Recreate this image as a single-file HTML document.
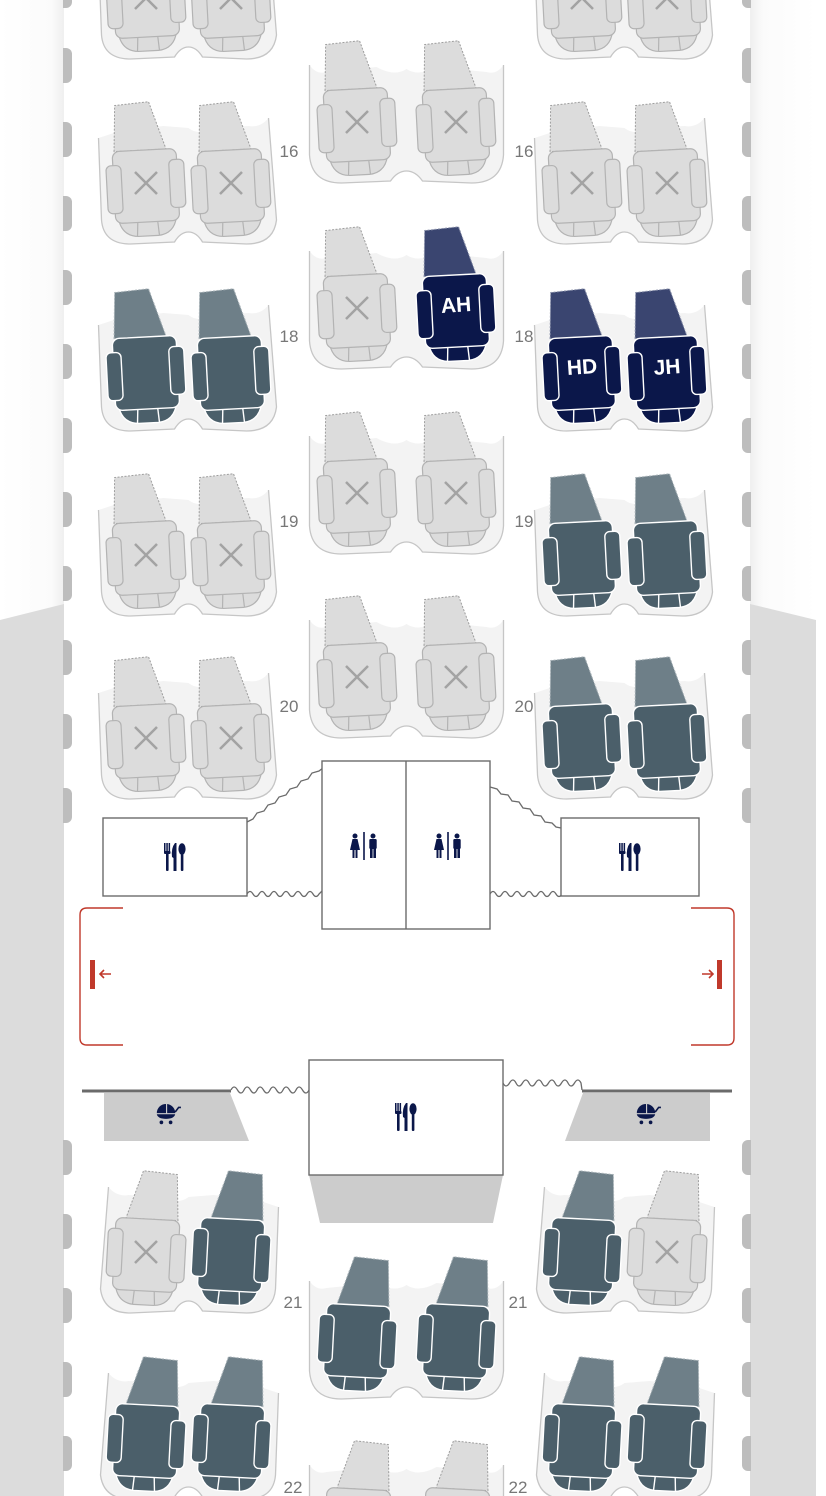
<!DOCTYPE html>
<html><head><meta charset="utf-8"><style>
html,body{margin:0;padding:0;background:#fff;width:826px;height:1496px;overflow:hidden}
svg{display:block}
text{font-family:"Liberation Sans",sans-serif}
</style></head><body>
<svg width="826" height="1496" viewBox="0 0 826 1496" xmlns="http://www.w3.org/2000/svg">
<defs>
<linearGradient id="gl" x1="0" x2="1" y1="0" y2="0"><stop offset="0" stop-color="#fff"/><stop offset="0.8" stop-color="#fbfbfb"/><stop offset="1" stop-color="#efefef"/></linearGradient>
<linearGradient id="gr" x1="0" x2="1" y1="0" y2="0"><stop offset="0" stop-color="#efefef"/><stop offset="0.2" stop-color="#fbfbfb"/><stop offset="1" stop-color="#fff"/></linearGradient>
<g id="shell">
<path d="M-90,-50 L-87,32 Q-85,56 -58,56 L-14,54 Q-8,44 0,44 Q8,44 14,54 L58,56 Q85,56 88,32 L80,-70 Q72,-60 60,-62 L25,-60 Q10,-52 0,-60 L-25,-62 Q-40,-60 -50,-63 Z" fill="#f3f3f3"/>
<path d="M-90,-50 L-87,32 Q-85,56 -58,56 L-14,54 Q-8,44 0,44 Q8,44 14,54 L58,56 Q85,56 88,32 L80,-70" fill="none" stroke="#c6c6c6" stroke-width="1.3"/>
</g>
<g id="shellC">
<path d="M-97,-62 L-97,28 Q-95,56 -65,56 L-16,54 Q-9,44 0,44 Q9,44 16,54 L65,56 Q95,56 97,28 L97,-62 Q90,-52 80,-55 L30,-60 Q12,-50 0,-58 Q-12,-50 -30,-60 L-80,-55 Q-90,-52 -97,-62 Z" fill="#f3f3f3"/>
<path d="M-97,-62 L-97,28 Q-95,56 -65,56 L-16,54 Q-9,44 0,44 Q9,44 16,54 L65,56 Q95,56 97,28 L97,-62" fill="none" stroke="#c6c6c6" stroke-width="1.3"/>
</g>
<g id="sO" transform="rotate(-3)">
<path d="M-30,-38 L-27,-84 L7,-86 L22,-38 Z" fill="#6e7f88" stroke="#a9b3b8" stroke-width="1" stroke-dasharray="2 1.5"/>
<path d="M-29,10 L-29,30 Q-26,47 -10,48 L10,48 Q26,47 29,30 L29,10 Z" fill="#4b5f6a" stroke="#fff" stroke-width="1.4"/>
<path d="M-10,34 L-11,48 M10,34 L11,48" stroke="#fff" stroke-width="1.4"/>
<rect x="-32" y="-38" width="64" height="72" rx="7" fill="#4b5f6a" stroke="#fff" stroke-width="1.4"/>
<rect x="-39" y="-24" width="15" height="48" rx="5" fill="#4b5f6a" stroke="#fff" stroke-width="1.4"/>
<rect x="24" y="-27" width="15" height="48" rx="5" fill="#4b5f6a" stroke="#fff" stroke-width="1.4"/>
</g>
<g id="sS" transform="rotate(-3)">
<path d="M-30,-38 L-27,-84 L7,-86 L22,-38 Z" fill="#3a4570" stroke="#8d94ad" stroke-width="1" stroke-dasharray="2 1.5"/>
<path d="M-29,10 L-29,30 Q-26,47 -10,48 L10,48 Q26,47 29,30 L29,10 Z" fill="#0b174a" stroke="#fff" stroke-width="1.4"/>
<path d="M-10,34 L-11,48 M10,34 L11,48" stroke="#fff" stroke-width="1.4"/>
<rect x="-32" y="-38" width="64" height="72" rx="7" fill="#0b174a" stroke="#fff" stroke-width="1.4"/>
<rect x="-39" y="-24" width="15" height="48" rx="5" fill="#0b174a" stroke="#fff" stroke-width="1.4"/>
<rect x="24" y="-27" width="15" height="48" rx="5" fill="#0b174a" stroke="#fff" stroke-width="1.4"/>
</g>
<g id="sU">
<g transform="rotate(-3)">
<path d="M-30,-38 L-27,-84 L7,-86 L22,-38 Z" fill="#dcdcdc" stroke="#9e9e9e" stroke-width="1" stroke-dasharray="2 1.5"/>
<path d="M-29,10 L-29,30 Q-26,47 -10,48 L10,48 Q26,47 29,30 L29,10 Z" fill="#dcdcdc" stroke="#b3b3b3" stroke-width="1.2"/>
<path d="M-10,34 L-11,48 M10,34 L11,48" stroke="#b3b3b3" stroke-width="1.2"/>
<rect x="-32" y="-38" width="64" height="72" rx="7" fill="#dcdcdc" stroke="#b3b3b3" stroke-width="1.2"/>
<rect x="-39" y="-24" width="15" height="48" rx="5" fill="#dcdcdc" stroke="#b3b3b3" stroke-width="1.2"/>
<rect x="24" y="-27" width="15" height="48" rx="5" fill="#dcdcdc" stroke="#b3b3b3" stroke-width="1.2"/>
</g>
<path d="M-11,-16 L11,6 M11,-16 L-11,6" stroke="#a3a3a3" stroke-width="2.5"/>
</g>
<g id="cut" fill="#0b174a">
<rect x="-11" y="-14" width="1.5" height="9"/><rect x="-8.7" y="-14" width="1.5" height="9"/><rect x="-6.4" y="-14" width="1.5" height="9"/>
<rect x="-11" y="-6" width="6.5" height="3" rx="1"/><rect x="-9" y="-4" width="2.6" height="18" rx="1"/>
<path d="M0,-14 Q-4,-9 -3,0 L-1.5,1 L-1.5,14 L1.5,14 L1.5,-14 Z"/>
<ellipse cx="7" cy="-8" rx="3.6" ry="5.8"/><rect x="5.8" y="-4" width="2.6" height="18" rx="1"/>
</g>
<g id="lav" fill="#0b174a">
<circle cx="-9" cy="-10" r="2.5"/><path d="M-11.5,-7 L-6.5,-7 L-4,4 L-14,4 Z"/><rect x="-11.5" y="3" width="2" height="9"/><rect x="-8.5" y="3" width="2" height="9"/>
<rect x="-0.8" y="-14" width="1.6" height="28"/>
<circle cx="9" cy="-10" r="2.5"/><rect x="5.3" y="-7" width="7.4" height="10" rx="1.2"/><rect x="6" y="2" width="2.6" height="10"/><rect x="9.4" y="2" width="2.6" height="10"/>
</g>
<g id="str" fill="#0b174a">
<path d="M-8,1 A8,8 0 0 1 0,-7 L0,1 Z"/><path d="M1,-7 A8,8 0 0 1 8,1 L1,1 Z" /><path d="M-8,2 L8,2 Q7,6 0,6 Q-7,6 -8,2 Z"/>
<path d="M8,0 L11,-4 L13,-4" stroke="#0b174a" stroke-width="1.4" fill="none"/>
<circle cx="-4" cy="9" r="1.6"/><circle cx="4" cy="9" r="1.6"/>
</g>
<path id="tab" d="M0,0 h3 a6,6 0 0 1 6,6 v23 a6,6 0 0 1 -6,6 h-3 z" fill="#bdbdbd"/>
<g id="tabs">
<use href="#tab" y="-27"/><use href="#tab" y="48"/><use href="#tab" y="122"/><use href="#tab" y="196"/><use href="#tab" y="270"/><use href="#tab" y="344"/><use href="#tab" y="418"/><use href="#tab" y="492"/><use href="#tab" y="566"/><use href="#tab" y="640"/><use href="#tab" y="714"/><use href="#tab" y="788"/><use href="#tab" y="1140"/><use href="#tab" y="1214"/><use href="#tab" y="1288"/><use href="#tab" y="1362"/><use href="#tab" y="1436"/>
</g>
</defs>

<!-- outside -->
<rect x="0" y="0" width="64" height="1496" fill="url(#gl)"/>
<polygon points="0,620 64,604 64,1496 0,1496" fill="#dcdcdc"/>
<rect x="750" y="0" width="66" height="1496" fill="url(#gr)"/>
<polygon points="750,604 816,620 816,1496 750,1496" fill="#dcdcdc"/>
<rect x="64" y="0" width="686" height="1496" fill="#fff"/>

<!-- window tabs -->
<use href="#tabs" x="63"/>
<use href="#tabs" transform="translate(751,0) scale(-1,1)"/>

<!-- rows before galley -->
<g transform="translate(188.5,3)"><use href="#shell"/><use href="#sU" x="-42.5"/><use href="#sU" x="42.5"/></g>
<g transform="translate(624.5,3)"><use href="#shell"/><use href="#sU" x="-42.5"/><use href="#sU" x="42.5"/></g>
<g transform="translate(406.5,127)"><use href="#shellC"/><use href="#sU" x="-49.5"/><use href="#sU" x="49.5"/></g>

<g transform="translate(188.5,188)"><use href="#shell"/><use href="#sU" x="-42.5"/><use href="#sU" x="42.5"/></g>
<g transform="translate(624.5,188)"><use href="#shell"/><use href="#sU" x="-42.5"/><use href="#sU" x="42.5"/></g>
<g transform="translate(406.5,313)"><use href="#shellC"/><use href="#sU" x="-49.5"/><use href="#sS" x="49.5"/></g>

<g transform="translate(188.5,375)"><use href="#shell"/><use href="#sO" x="-42.5"/><use href="#sO" x="42.5"/></g>
<g transform="translate(624.5,375)"><use href="#shell"/><use href="#sS" x="-42.5"/><use href="#sS" x="42.5"/></g>
<g transform="translate(406.5,498)"><use href="#shellC"/><use href="#sU" x="-49.5"/><use href="#sU" x="49.5"/></g>

<g transform="translate(188.5,560)"><use href="#shell"/><use href="#sU" x="-42.5"/><use href="#sU" x="42.5"/></g>
<g transform="translate(624.5,560)"><use href="#shell"/><use href="#sO" x="-42.5"/><use href="#sO" x="42.5"/></g>
<g transform="translate(406.5,682)"><use href="#shellC"/><use href="#sU" x="-49.5"/><use href="#sU" x="49.5"/></g>

<g transform="translate(188.5,743)"><use href="#shell"/><use href="#sU" x="-42.5"/><use href="#sU" x="42.5"/></g>
<g transform="translate(624.5,743)"><use href="#shell"/><use href="#sO" x="-42.5"/><use href="#sO" x="42.5"/></g>

<!-- selected labels -->
<g font-size="21" font-weight="bold" fill="#fff" text-anchor="middle">
<text x="456" y="312" transform="rotate(-4 456 305)">AH</text>
<text x="582" y="374" transform="rotate(-4 582 367)">HD</text>
<text x="667" y="374" transform="rotate(-4 667 367)">JH</text>
</g>

<!-- rows after galley (mirrored) -->
<g transform="translate(188.5,1257) scale(-1,1)"><use href="#shell"/><use href="#sO" x="-42.5"/><use href="#sU" x="42.5"/></g>
<g transform="translate(624.5,1257) scale(-1,1)"><use href="#shell"/><use href="#sU" x="-42.5"/><use href="#sO" x="42.5"/></g>
<g transform="translate(406.5,1343) scale(-1,1)"><use href="#shellC"/><use href="#sO" x="-49.5"/><use href="#sO" x="49.5"/></g>
<g transform="translate(188.5,1443) scale(-1,1)"><use href="#shell"/><use href="#sO" x="-42.5"/><use href="#sO" x="42.5"/></g>
<g transform="translate(624.5,1443) scale(-1,1)"><use href="#shell"/><use href="#sO" x="-42.5"/><use href="#sO" x="42.5"/></g>
<g transform="translate(406.5,1527) scale(-1,1)"><use href="#shellC"/><use href="#sU" x="-49.5"/><use href="#sU" x="49.5"/></g>

<!-- row numbers -->
<g font-size="17" fill="#777" text-anchor="middle">
<text x="289" y="157">16</text><text x="524" y="157">16</text>
<text x="289" y="342">18</text><text x="524" y="342">18</text>
<text x="289" y="527">19</text><text x="524" y="527">19</text>
<text x="289" y="712">20</text><text x="524" y="712">20</text>
<text x="293" y="1308">21</text><text x="518" y="1308">21</text>
<text x="293" y="1493">22</text><text x="518" y="1493">22</text>
</g>

<!-- galley / lavs -->
<g fill="none" stroke="#6b6b6b" stroke-width="1.3">
<path d="M247,822 l6,-3 l4,-6 l7,-2 l4,-6 l7,-2 l4,-6 l7,-2 l4,-6 l7,-2 l4,-6 l7,-2 l4,-6 l7,-2 l4,-3 l7,2"/>
<path d="M247,894 q3,-5 6,0 t6,0 t6,0 t6,0 t6,0 t6,0 t6,0 t6,0 t6,0 t6,0 t6,0 t6,0 l3,-3"/>
<path d="M490,787 l7,2 l4,5 l7,1 l4,6 l7,1 l4,6 l7,1 l4,6 l7,1 l4,6 l7,1 l4,4 l5,1"/>
<path d="M490,894 q3,-5 6,0 t6,0 t6,0 t6,0 t6,0 t6,0 t6,0 t6,0 t6,0 t6,0 t6,0 t6,0 l-1,-2"/>
</g>
<g fill="#fff" stroke="#6b6b6b" stroke-width="1.4">
<rect x="103" y="818" width="144" height="78"/>
<rect x="561" y="818" width="138" height="78"/>
<rect x="322" y="761" width="168" height="168"/>
<line x1="406" y1="761" x2="406" y2="929"/>
</g>
<use href="#cut" x="175" y="857"/>
<use href="#cut" x="630" y="857"/>
<use href="#lav" x="364" y="846"/>
<use href="#lav" x="448" y="846"/>

<!-- exits -->
<g fill="none" stroke="#c0392b" stroke-width="1.4">
<path d="M123,908 L87,908 Q80,908 80,915 L80,1038 Q80,1045 87,1045 L123,1045"/>
<path d="M691,908 L727,908 Q734,908 734,915 L734,1038 Q734,1045 727,1045 L691,1045"/>
<path d="M111,974 L100,974 M104,970 L100,974 L104,978" stroke-width="1.6"/>
<path d="M702,974 L713,974 M709,970 L713,974 L709,978" stroke-width="1.6"/>
</g>
<rect x="90" y="960" width="5" height="29" fill="#c0392b"/>
<rect x="717" y="960" width="5" height="29" fill="#c0392b"/>

<!-- lower divider -->
<polygon points="104,1093 230,1093 249,1141 104,1141" fill="#cccccc"/>
<polygon points="583,1093 710,1093 710,1141 565,1141" fill="#cccccc"/>
<polygon points="309,1175 503,1175 493,1223 320,1223" fill="#cccccc"/>
<line x1="82" y1="1091" x2="231" y2="1091" stroke="#6b6b6b" stroke-width="3"/>
<line x1="582" y1="1091" x2="732" y2="1091" stroke="#6b6b6b" stroke-width="3"/>
<g fill="none" stroke="#6b6b6b" stroke-width="1.3">
<path d="M231,1090 q3,-6 6.5,0 t6.5,0 t6.5,0 t6.5,0 t6.5,0 t6.5,0 t6.5,0 t6.5,0 t6.5,0 t6.5,0 t6.5,0 t6.5,0"/>
<path d="M503,1083 q3,6 6.5,0 t6.5,0 t6.5,0 t6.5,0 t6.5,0 t6.5,0 t6.5,0 t6.5,0 t6.5,0 t6.5,0 t6.5,0 t6.5,0 l1,7"/>
</g>
<rect x="309" y="1060" width="194" height="115" fill="#fff" stroke="#6b6b6b" stroke-width="1.4"/>
<use href="#cut" x="406" y="1117"/>
<use href="#str" x="166" y="1112" transform="translate(166 1112) scale(1.15) translate(-166 -1112)"/>
<use href="#str" x="646" y="1112" transform="translate(646 1112) scale(1.15) translate(-646 -1112)"/>
</svg>
</body></html>
